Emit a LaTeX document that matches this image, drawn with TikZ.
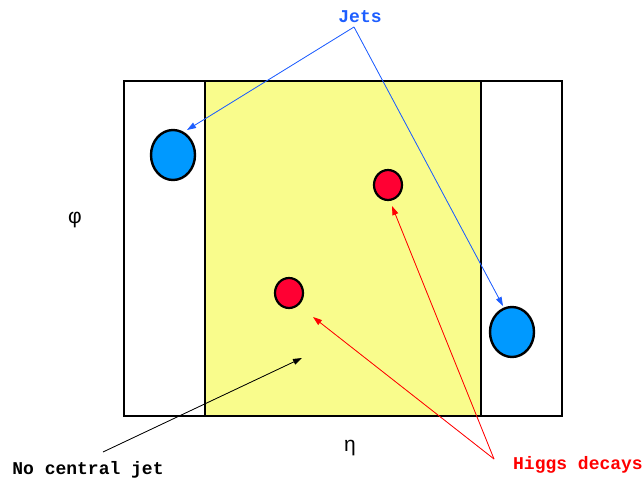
\documentclass[tikz,border=0pt]{standalone}
\usepackage{fontspec}
\setmainfont{Liberation Sans}
\newfontfamily\codefont{Liberation Mono}
\usetikzlibrary{arrows.meta,shapes.geometric}
\definecolor{yell}{HTML}{F9FC8C}
\definecolor{jetblue}{HTML}{0099FF}
\definecolor{higgsred}{HTML}{FF0033}
\definecolor{labred}{HTML}{FF0000}
\definecolor{labblue}{HTML}{1E5EFF}
\begin{document}
\begin{tikzpicture}[x=1pt,y=-1pt,
  jet/.style={ellipse,draw=black,line width=2.4pt,fill=jetblue,minimum width=44pt,minimum height=50pt,inner sep=0pt},
  higgs/.style={ellipse,draw=black,line width=2.2pt,fill=higgsred,minimum width=28pt,minimum height=30pt,inner sep=0pt},
  lab/.style={font=\codefont\bfseries\fontsize{18}{18}\selectfont,inner sep=0pt},
  arr/.style={-{Triangle[length=9pt,width=6pt]},line width=0.8pt},
  axis/.style={font=\fontsize{21}{21}\selectfont,inner sep=0pt}]
\useasboundingbox (0,0) rectangle (643,479);
\fill[white] (0,0) rectangle (643,479);
\draw[line width=2.4pt] (124,81) rectangle (562,416);
\draw[line width=2.8pt,fill=yell] (205,81) rectangle (481,416);
\node[jet] (j1) at (173,155) {};
\node[jet] (j2) at (512,332) {};
\node[higgs] (h1) at (388,185) {};
\node[higgs] (h2) at (289,293) {};
\node[axis] (phi) at (75,220) {φ};
\node[axis] (eta) at (350,448) {η};
\node[lab,text=labblue] (jets) at (360,17) {Jets};
\node[lab,text=black] (ncj) at (88,470) {No central jet};
\node[lab,text=labred] (hd) at (578,465) {Higgs decays};
\coordinate (jo) at (354,27);
\coordinate (co) at (103,452);
\coordinate (ho) at (494,459);
\coordinate (ct) at (302,358);
\draw[arr,draw=labblue,fill=labblue] (jo) -- (187,130);
\draw[arr,draw=labblue,fill=labblue] (jo) -- (503,306);
\draw[arr,draw=black,fill=black] (co) -- (ct);
\draw[arr,draw=labred,fill=labred] (ho) -- (392,206);
\draw[arr,draw=labred,fill=labred] (ho) -- (313,317);
\end{tikzpicture}
\end{document}
